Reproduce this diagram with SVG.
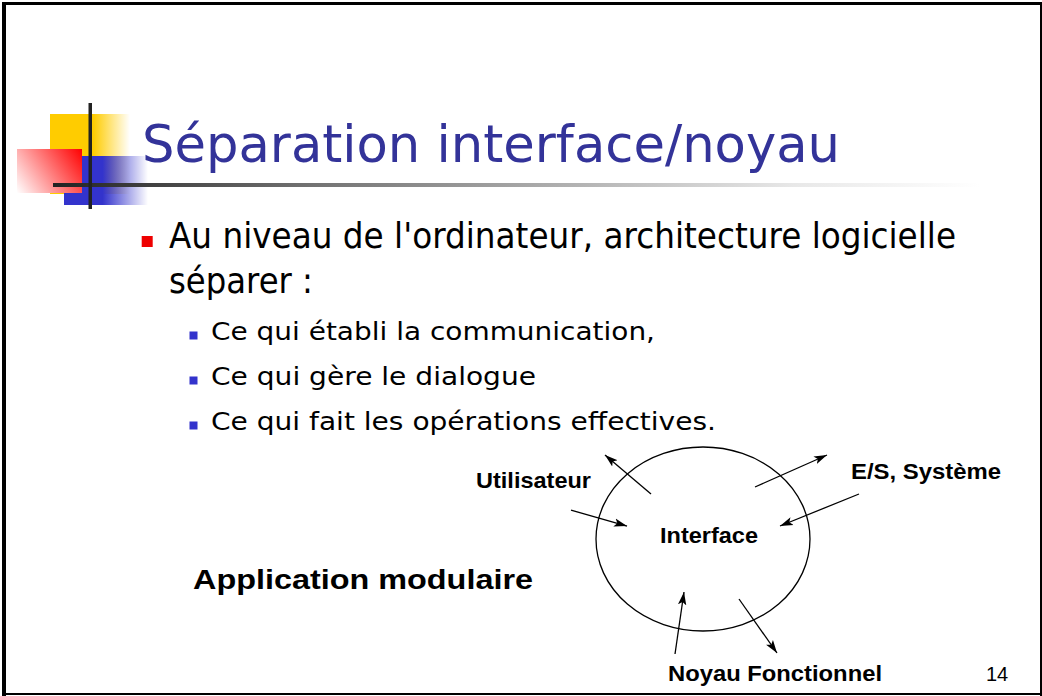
<svg xmlns="http://www.w3.org/2000/svg" width="1042" height="696" viewBox="0 0 1042 696">
  <defs>
    <style>
      .title { font-family: "DejaVu Sans", "Noto Sans", sans-serif; font-size: 52px; fill: #333399; }
      .body1 { font-family: "DejaVu Sans", "Noto Sans", sans-serif; font-size: 36px; fill: #000; }
      .body2 { font-family: "DejaVu Sans", "Noto Sans", sans-serif; font-size: 25px; fill: #000; }
      .lbl { font-family: "Liberation Sans", Arial, sans-serif; font-weight: bold; font-size: 22px; fill: #000; }
      .big { font-family: "Liberation Sans", Arial, sans-serif; font-weight: bold; font-size: 27px; fill: #000; }
      .num { font-family: "Liberation Sans", Arial, sans-serif; font-size: 20px; fill: #000; }
      .conn line { stroke: #000; stroke-width: 1.3; marker-end: url(#arrow); }
    </style>
    <marker id="arrow" markerUnits="userSpaceOnUse" markerWidth="14" markerHeight="10" refX="13" refY="5" orient="auto">
      <path d="M0,0.8 L13,5 L0,9.2 L3,5 z" fill="#000"/>
    </marker>
    <linearGradient id="gYellow" x1="50" y1="0" x2="130" y2="0" gradientUnits="userSpaceOnUse">
      <stop offset="0" stop-color="#FFCC00"/>
      <stop offset="0.54" stop-color="#FFCC00"/>
      <stop offset="1" stop-color="#FFCC00" stop-opacity="0"/>
    </linearGradient>
    <linearGradient id="gBlue" x1="64" y1="0" x2="148" y2="0" gradientUnits="userSpaceOnUse">
      <stop offset="0" stop-color="#3333CC"/>
      <stop offset="0.46" stop-color="#3333CC"/>
      <stop offset="1" stop-color="#3333CC" stop-opacity="0"/>
    </linearGradient>
    <linearGradient id="gRed" x1="82" y1="149" x2="17" y2="193" gradientUnits="userSpaceOnUse">
      <stop offset="0" stop-color="#FF0000"/>
      <stop offset="1" stop-color="#FFFFFF"/>
    </linearGradient>
    <linearGradient id="gRule" x1="53" y1="0" x2="980" y2="0" gradientUnits="userSpaceOnUse">
      <stop offset="0" stop-color="#222222"/>
      <stop offset="0.27" stop-color="#707070"/>
      <stop offset="0.8" stop-color="#E8E8E8"/>
      <stop offset="1" stop-color="#FFFFFF"/>
    </linearGradient>
  </defs>

  <rect width="1042" height="696" fill="#fff"/>

  <!-- slide frame -->
  <g id="frame" fill="#000">
    <rect x="2" y="2" width="1040" height="3"/>
    <rect x="2" y="2" width="4" height="694"/>
    <rect x="1040" y="2" width="2" height="694"/>
    <rect x="2" y="693" width="1040" height="2"/>
  </g>

  <!-- title ornament -->
  <g id="ornament">
    <rect x="50" y="114" width="80" height="80" fill="url(#gYellow)"/>
    <rect x="64" y="156" width="84" height="49" fill="url(#gBlue)"/>
    <rect x="17" y="149" width="65" height="44" fill="url(#gRed)"/>
    <rect x="53" y="183" width="927" height="4" fill="url(#gRule)"/>
    <rect x="88.5" y="103" width="3.5" height="106" fill="#222"/>
  </g>

  <g id="title">
    <text class="title" x="142" y="162" textLength="698" lengthAdjust="spacingAndGlyphs">Séparation interface/noyau</text>
  </g>

  <g id="bullets">
    <rect x="141.7" y="236" width="11" height="11" fill="#EE0000"/>
    <text class="body1" x="169" y="248" textLength="787" lengthAdjust="spacingAndGlyphs">Au niveau de l'ordinateur, architecture logicielle</text>
    <text class="body1" x="169" y="293" textLength="144" lengthAdjust="spacingAndGlyphs">séparer :</text>
    <rect x="189.5" y="331.5" width="8" height="8" fill="#3333CC"/>
    <text class="body2" x="211" y="340" textLength="444" lengthAdjust="spacingAndGlyphs">Ce qui établi la communication,</text>
    <rect x="189.5" y="376.5" width="8" height="8" fill="#3333CC"/>
    <text class="body2" x="211" y="385" textLength="325" lengthAdjust="spacingAndGlyphs">Ce qui gère le dialogue</text>
    <rect x="189.5" y="421.5" width="8" height="8" fill="#3333CC"/>
    <text class="body2" x="211" y="430" textLength="505" lengthAdjust="spacingAndGlyphs">Ce qui fait les opérations effectives.</text>
  </g>

  <!-- diagram nodes -->
  <g id="interface">
    <ellipse cx="703" cy="539" rx="107" ry="92" fill="none" stroke="#000" stroke-width="1.3"/>
    <text class="lbl" x="660" y="543" textLength="98" lengthAdjust="spacingAndGlyphs">Interface</text>
  </g>
  <g id="utilisateur">
    <text class="lbl" x="476" y="488" textLength="115" lengthAdjust="spacingAndGlyphs">Utilisateur</text>
  </g>
  <g id="systeme">
    <text class="lbl" x="851" y="479" textLength="150" lengthAdjust="spacingAndGlyphs">E/S, Système</text>
  </g>
  <g id="noyau">
    <text class="lbl" x="668" y="681" textLength="214" lengthAdjust="spacingAndGlyphs">Noyau Fonctionnel</text>
  </g>
  <g id="application">
    <text class="big" x="193" y="589" textLength="340" lengthAdjust="spacingAndGlyphs">Application modulaire</text>
  </g>
  <g id="page-number">
    <text class="num" x="986" y="681">14</text>
  </g>

  <!-- connectors -->
  <g id="connectors" class="conn">
    <line x1="651" y1="494" x2="605" y2="455"/>
    <line x1="571" y1="510" x2="627" y2="526"/>
    <line x1="755" y1="487" x2="827" y2="455"/>
    <line x1="859" y1="494" x2="780" y2="526"/>
    <line x1="675" y1="654" x2="684" y2="592"/>
    <line x1="739" y1="599" x2="777" y2="653"/>
  </g>
</svg>
